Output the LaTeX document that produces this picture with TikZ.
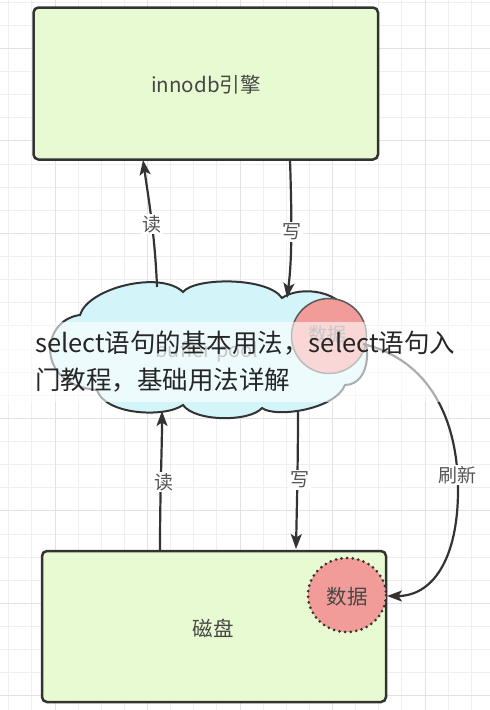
\documentclass[tikz,border=0pt]{standalone}
\usepackage{fontspec}
\newfontfamily\cjk{Noto Sans CJK SC}
\usetikzlibrary{arrows.meta,shapes.geometric}
\definecolor{gridminor}{HTML}{EFEFEF}
\definecolor{gridmajor}{HTML}{E2E2E2}
\definecolor{boxgreen}{HTML}{E8FAD2}
\definecolor{edge}{HTML}{333333}
\definecolor{cloudfill}{HTML}{D3F5FA}
\definecolor{redfill}{HTML}{F19C99}
\definecolor{labelgray}{HTML}{555555}
\tikzset{
  gminor/.style={draw=gridminor, line width=0.8pt},
  gmajor/.style={draw=gridmajor, line width=1pt},
  boxstyle/.style={draw=edge, fill=boxgreen, line width=2.5pt, rounded corners=5pt},
  arr/.style={draw=edge, line width=2.2pt, -{Stealth[length=15pt,width=11pt,inset=3.5pt]}},
  lbl/.style={font=\cjk\fontsize{19}{21}\selectfont, text=labelgray, fill=white, inner sep=1.5pt},
  boxtext/.style={font=\cjk\fontsize{20.5}{23}\selectfont, text=edge!90},
  overlay/.style={font=\cjk\fontsize{25.5}{30}\selectfont, text=black!85, anchor=base west, inner sep=0pt},
}
\begin{document}
\begin{tikzpicture}[x=1pt,y=-1pt]
\useasboundingbox (0,0) rectangle (490,710);
\fill[white] (0,0) rectangle (490,710);
% grid
\foreach \i in {0,...,21} { \draw[gminor] ({8.75+\i*23.125},0) -- ({8.75+\i*23.125},710); }
\foreach \i in {0,...,30} { \draw[gminor] (0,{2.1+\i*23.125}) -- (490,{2.1+\i*23.125}); }
\foreach \i in {0,...,4} { \draw[gmajor] ({55+\i*92.5},0) -- ({55+\i*92.5},710); }
\foreach \i in {0,...,7} { \draw[gmajor] (0,{48.35+\i*92.5}) -- (490,{48.35+\i*92.5}); }

% top box
\draw[boxstyle] (33.5,7.5) rectangle (378,159.5);
\node[boxtext] (engine) at (206,85) {innodb引擎};
\coordinate (engR) at (143,160);
\coordinate (engW) at (290,160);

% cloud
\draw[draw=edge, fill=cloudfill, line width=2pt]
  (80,315) .. controls (88,288) and (160,270) .. (183,292)
  .. controls (195,277) and (268,277) .. (282,298)
  .. controls (300,285) and (345,290) .. (350,320)
  .. controls (375,335) and (372,385) .. (345,385)
  .. controls (335,410) and (275,418) .. (262,408)
  .. controls (250,422) and (195,422) .. (183,405)
  .. controls (165,418) and (105,415) .. (97,390)
  .. controls (35,385) and (40,320) .. (80,315) -- cycle;
\node[font=\cjk\fontsize{20}{22}\selectfont, text=black!55] (pool) at (207,352) {buffer pool};
\coordinate (cloudRT) at (157,287);
\coordinate (cloudWT) at (287,298);
\coordinate (cloudRB) at (162,411);
\coordinate (cloudWB) at (298,410);

% red circle in cloud
\node[circle, draw=black!65, line width=1.5pt, fill=redfill, minimum size=75pt, inner sep=0pt] (cache) at (329,336) {};
\node[font=\cjk\fontsize{19}{22}\selectfont, text=black!55] (cachetext) at (327,334) {数据};

% bottom box
\draw[boxstyle] (42,551) rectangle (386,702);
\node[boxtext] (disk) at (213,628) {磁盘};
\coordinate (diskR) at (160,550);
\coordinate (diskW) at (296,549);

% dotted data circle
\node[ellipse, fill=redfill, minimum width=78pt, minimum height=74pt, inner sep=0pt] (data) at (347,595) {};
\draw[edge, line width=3pt, line cap=round, dash pattern=on 0pt off 5.6pt] (data.center) ellipse [x radius=39, y radius=37];
\node[boxtext] (datatext) at (347,597) {数据};

% arrows
\draw[arr] (cloudRT) .. controls (155,235) and (148,195) .. (engR);
\node[lbl] (r1) at (152,224) {读};
\draw[arr] (engW) .. controls (292,220) and (292,260) .. (cloudWT);
\node[lbl] (w1) at (292,232) {写};
\draw[arr] (diskR) .. controls (160,490) and (162,450) .. (cloudRB);
\node[lbl] (r2) at (164,482) {读};
\draw[arr] (cloudWB) .. controls (298,460) and (297,500) .. (diskW);
\node[lbl] (w2) at (300,480) {写};
\coordinate (cacheR) at (363,344);
\coordinate (dataR) at (387,596);
\draw[arr] (cacheR) .. controls (430,360) and (458,420) .. (458,490) .. controls (458,560) and (432,596) .. (dataR);
\node[lbl] (refresh) at (457,475) {刷新};

% translucent band and overlay text
\fill[white, opacity=0.6] (0,322) rectangle (490,402);
\node[overlay] (t1) at (35,352) {select语句的基本用法，select语句入};
\node[overlay] (t2) at (35,389) {门教程，基础用法详解};
\end{tikzpicture}
\end{document}
